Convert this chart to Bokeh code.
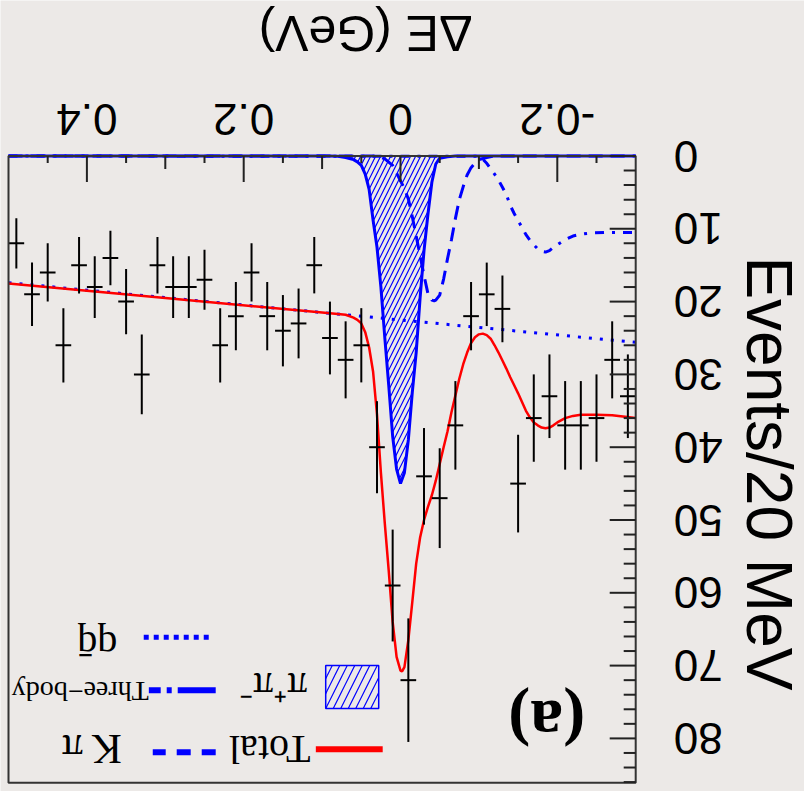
import math
import numpy as np
from bokeh.plotting import figure
from bokeh.models import Range1d
from bokeh.core.properties import value
from bokeh.embed import file_html
from bokeh.resources import INLINE

# ---------------- data ----------------
# Delta E bin centres (GeV), 20 MeV bins, and event counts
bin_centers = [0.49, 0.47, 0.45, 0.43, 0.41, 0.39, 0.37, 0.35, 0.33, 0.31,
               0.29, 0.27, 0.25, 0.23, 0.21, 0.19, 0.17, 0.15, 0.13, 0.11,
               0.09, 0.07, 0.05, 0.03, 0.01, -0.01, -0.03, -0.05, -0.07, -0.09,
               -0.11, -0.13, -0.15, -0.17, -0.19, -0.21, -0.23, -0.25, -0.27, -0.29]
counts = [12, 19, 16, 26, 15, 18, 14, 20, 30, 15,
          18, 18, 17, 26, 22, 16, 22, 24, 23, 15,
          25, 28, 26, 40, 59, 72, 44, 47, 37, 22,
          19, 21, 45, 36, 33, 37, 37, 36, 28, 33]

# total fit
total_de = [0.5, 0.3, 0.1, 0.08, 0.07, 0.06, 0.055, 0.05, 0.045, 0.04, 0.035, 0.03,
            0.025, 0.02, 0.015, 0.01, 0.005, 0.0, -0.002, -0.005, -0.01, -0.015,
            -0.02, -0.025, -0.03, -0.035, -0.04, -0.045, -0.05, -0.055, -0.06,
            -0.065, -0.07, -0.075, -0.08, -0.085, -0.09, -0.095, -0.1, -0.105,
            -0.11, -0.115, -0.12, -0.125, -0.13, -0.135, -0.14, -0.145, -0.15,
            -0.155, -0.16, -0.165, -0.17, -0.175, -0.18, -0.185, -0.19, -0.195,
            -0.2, -0.21, -0.22, -0.23, -0.25, -0.27, -0.3]
total_val = [17.5, 19.5, 21.5, 21.7, 21.8, 22.2, 22.5, 23.0, 24.2, 26.3, 29.6, 35.5,
             43.5, 50.5, 57.0, 64.0, 68.8, 70.7, 70.8, 70.2, 66.5, 61.3,
             56.0, 52.4, 50.0, 48.2, 46.6, 44.6, 42.3, 40.0, 37.8,
             35.2, 32.9, 30.6, 28.6, 27.0, 25.7, 24.9, 24.5, 24.4,
             24.6, 25.1, 26.0, 27.0, 28.1, 29.2, 30.4, 31.5, 32.6,
             33.8, 35.0, 35.9, 36.6, 37.0, 37.3, 37.4, 37.3, 37.0,
             36.6, 36.0, 35.7, 35.55, 35.55, 35.6, 36.0]

# pi+ pi- signal component
pipi_de = [0.5, 0.09, 0.08, 0.07, 0.06, 0.055, 0.05, 0.045, 0.04, 0.035, 0.03,
           0.025, 0.02, 0.015, 0.01, 0.005, 0.0, -0.005, -0.01, -0.015, -0.02,
           -0.025, -0.03, -0.035, -0.04, -0.045, -0.05, -0.06, -0.07, -0.3]
pipi_val = [0.0, 0.0, 0.05, 0.2, 0.5, 0.8, 1.3, 2.5, 4.6, 8.8, 12.5,
            18.0, 25.0, 31.5, 38.5, 43.0, 45.0, 43.5, 39.0, 32.5, 27.0,
            19.5, 13.0, 8.0, 3.6, 1.1, 0.3, 0.1, 0.0, 0.0]

# K pi component
kpi_de = [0.5, 0.03, 0.02, 0.01, 0.0, -0.005, -0.01, -0.015, -0.02, -0.025, -0.03,
          -0.035, -0.04, -0.043, -0.045, -0.05, -0.055, -0.06, -0.065, -0.07,
          -0.075, -0.08, -0.085, -0.09, -0.095, -0.1, -0.11, -0.12, -0.3]
kpi_val = [0.0, 0.0, 0.4, 1.3, 3.4, 4.5, 5.9, 8.3, 11.0, 13.7, 16.4,
           18.9, 19.8, 19.9, 19.8, 19.1, 16.9, 14.1, 11.5, 8.6,
           6.0, 4.2, 2.6, 1.6, 1.0, 0.5, 0.2, 0.0, 0.0]

# three-body component
three_de = [0.5, -0.1, -0.105, -0.11, -0.115, -0.12, -0.125, -0.13, -0.135, -0.14,
            -0.145, -0.15, -0.155, -0.16, -0.165, -0.17, -0.175, -0.18, -0.185,
            -0.19, -0.195, -0.2, -0.21, -0.22, -0.23, -0.24, -0.26, -0.3]
three_val = [0.0, 0.05, 0.45, 1.0, 1.76, 2.5, 3.3, 4.3, 5.3, 6.8,
             7.9, 8.9, 9.8, 10.8, 11.55, 12.2, 12.75, 13.1, 13.2,
             13.0, 12.55, 12.2, 11.5, 11.0, 10.75, 10.6, 10.5, 10.5]

# q qbar continuum (linear)
qq_de = [0.5, -0.3]
qq_val = [17.4, 25.6]

# axes: ticks and tick labels
x_lo, x_hi = -0.3, 0.5
y_lo, y_hi = 0.0, 86.1
x_ticks = [-0.2, 0.0, 0.2, 0.4]
x_tick_labels = ["-0.2", "0", "0.2", "0.4"]
x_medium = [-0.1, 0.1, 0.3]
x_minor = [-0.25, -0.15, -0.05, 0.05, 0.15, 0.25, 0.35, 0.45]
y_ticks = [0, 10, 20, 30, 40, 50, 60, 70, 80]
y_tick_labels = ["0", "10", "20", "30", "40", "50", "60", "70", "80"]
y_minor = [2, 4, 6, 8, 12, 14, 16, 18, 22, 24, 26, 28, 32, 34, 36, 38, 42, 44, 46, 48,
           52, 54, 56, 58, 62, 64, 66, 68, 72, 74, 76, 78, 82, 84, 86]

# ---------------- layout constants ----------------
W, H = 804, 791
PX_PER_X = 784.0      # pixels per GeV
PX_PER_Y = 7.28       # pixels per event
FRAME_LEFT_PX = 8.0   # where Delta E = 0.5 sits
FRAME_TOP_PX = 155.5  # where 0 events sits

BG = "#ECE9E7"
BLUE = "#0000ff"
RED = "#ff0000"
AX = "#222222"
FRAME = "#333333"
BIN_HALF = 0.01

# the whole canvas is the plotting area; the frame, ticks and labels are drawn inside it
x_range = Range1d(x_hi + FRAME_LEFT_PX / PX_PER_X, x_hi - (W - FRAME_LEFT_PX) / PX_PER_X)
y_range = Range1d((H - FRAME_TOP_PX) / PX_PER_Y, -FRAME_TOP_PX / PX_PER_Y)

p = figure(width=W, height=H, x_range=x_range, y_range=y_range,
           output_backend="svg", toolbar_location=None,
           x_axis_location=None, y_axis_location=None,
           min_border=0, min_border_left=0, min_border_right=0,
           min_border_top=0, min_border_bottom=0,
           background_fill_color=BG, border_fill_color=BG, outline_line_color=None)
p.grid.visible = False


def dx(px):
    return px / PX_PER_X


def dy(px):
    return px / PX_PER_Y


# components
p.varea(x=pipi_de, y1=0, y2=pipi_val, fill_color=None,
        hatch_pattern="/", hatch_color=BLUE, hatch_scale=10, hatch_weight=1.2)
p.line(qq_de, qq_val, line_color=BLUE, line_width=3, line_dash="3 8")
p.line(three_de, three_val, line_color=BLUE, line_width=3, line_dash="9 8 3 8")
p.line(kpi_de, kpi_val, line_color=BLUE, line_width=3, line_dash="14 8")
p.line(pipi_de, pipi_val, line_color=BLUE, line_width=3)
p.line(total_de, total_val, line_color=RED, line_width=2.5)

# data points with Poisson errors
cnt = np.array(counts, dtype=float)
err = np.sqrt(cnt)
ctr = np.array(bin_centers)
p.segment(x0=ctr, y0=cnt - err, x1=ctr, y1=cnt + err, line_color="black", line_width=2)
p.segment(x0=ctr - BIN_HALF, y0=cnt, x1=ctr + BIN_HALF, y1=cnt, line_color="black", line_width=2)

# frame
p.quad(left=[x_hi], right=[x_lo], top=[y_lo], bottom=[y_hi], fill_color=None,
       line_color=FRAME, line_width=2)

# ticks, pointing into the frame from the top (Delta E) and right (events) edges
p.segment(x0=x_ticks, y0=y_lo, x1=x_ticks, y1=y_lo + dy(26), line_color=AX, line_width=2)
p.segment(x0=x_medium, y0=y_lo, x1=x_medium, y1=y_lo + dy(13), line_color=AX, line_width=2)
p.segment(x0=x_minor, y0=y_lo, x1=x_minor, y1=y_lo + dy(7), line_color=AX, line_width=2)
p.segment(x0=x_lo, y0=y_ticks, x1=x_lo + dx(26), y1=y_ticks, line_color=AX, line_width=2)
p.segment(x0=x_lo, y0=y_minor, x1=x_lo + dx(12), y1=y_minor, line_color=AX, line_width=2)

sans = value("Liberation Sans")
serif = value("Liberation Serif")

# tick labels, turned upside down
p.text(x=x_ticks, y=y_lo - dy(36.6), text=x_tick_labels, angle=math.pi,
       text_align="center", text_baseline="middle", text_font=sans,
       text_font_size="44px", text_color="black")
p.text(x=x_lo - dx(38), y=y_ticks, text=y_tick_labels, angle=math.pi,
       text_align="right", text_baseline="middle", text_font=sans,
       text_font_size="44px", text_color="black")

# axis titles
p.text(x=[x_hi - dx(357)], y=[y_lo - dy(123)], text=["\u0394E (GeV)"], angle=math.pi,
       text_align="center", text_baseline="middle", text_font=sans,
       text_font_size="50px", text_color="black")
p.text(x=[x_lo - dx(133)], y=[43.6], text=["Events/20 MeV"], angle=-math.pi / 2,
       text_align="center", text_baseline="middle", text_font=sans,
       text_font_size="64px", text_color="black")

# legend
p.segment(x0=[0.0227], y0=[81.5], x1=[0.108], y1=[81.5], line_color=RED, line_width=6)
p.segment(x0=[0.2357], y0=[81.9], x1=[0.316], y1=[81.9], line_color=BLUE, line_width=6,
          line_dash="14 11")
p.quad(left=[0.0278], right=[0.0954], top=[70.0], bottom=[75.9], fill_color=None,
       line_color=BLUE, line_width=1.5, hatch_pattern="/", hatch_color=BLUE,
       hatch_scale=15, hatch_weight=1.2)
p.segment(x0=[0.2357], y0=[73.4], x1=[0.321], y1=[73.4], line_color=BLUE, line_width=6,
          line_dash="38 6 5 6")
p.segment(x0=[0.2446], y0=[66.1], x1=[0.3288], y1=[66.1], line_color=BLUE, line_width=5,
          line_dash="5 5")

p.text(x=[0.1668], y=[81.5], text=["Total"], angle=math.pi, text_align="center",
       text_baseline="middle", text_font=serif, text_font_size="40px", text_color="black")
p.text(x=[0.3939], y=[81.5], text=["K\u2009\u03c0"], angle=math.pi, text_align="center",
       text_baseline="middle", text_font=serif, text_font_size="42px", text_color="black")
p.text(x=[0.1624], y=[72.9], text=["\u03c0\u207a\u03c0\u207b"], angle=math.pi,
       text_align="center", text_baseline="middle", text_font=serif,
       text_font_size="40px", text_color="black")
p.text(x=[0.4085], y=[73.6], text=["Three\u2212body"], angle=math.pi, text_align="center",
       text_baseline="middle", text_font=serif, text_font_size="28px", text_color="black")
p.text(x=[0.3869], y=[67.2], text=["qq\u0304"], angle=math.pi, text_align="center",
       text_baseline="middle", text_font=serif, text_font_size="40px", text_color="black")
p.text(x=[-0.1865], y=[77.9], text=["(a)"], angle=math.pi, text_align="center",
       text_baseline="middle", text_font=serif, text_font_size="66px",
       text_font_style="bold", text_color="black")

open("out.html", "w").write(file_html(p, INLINE))
